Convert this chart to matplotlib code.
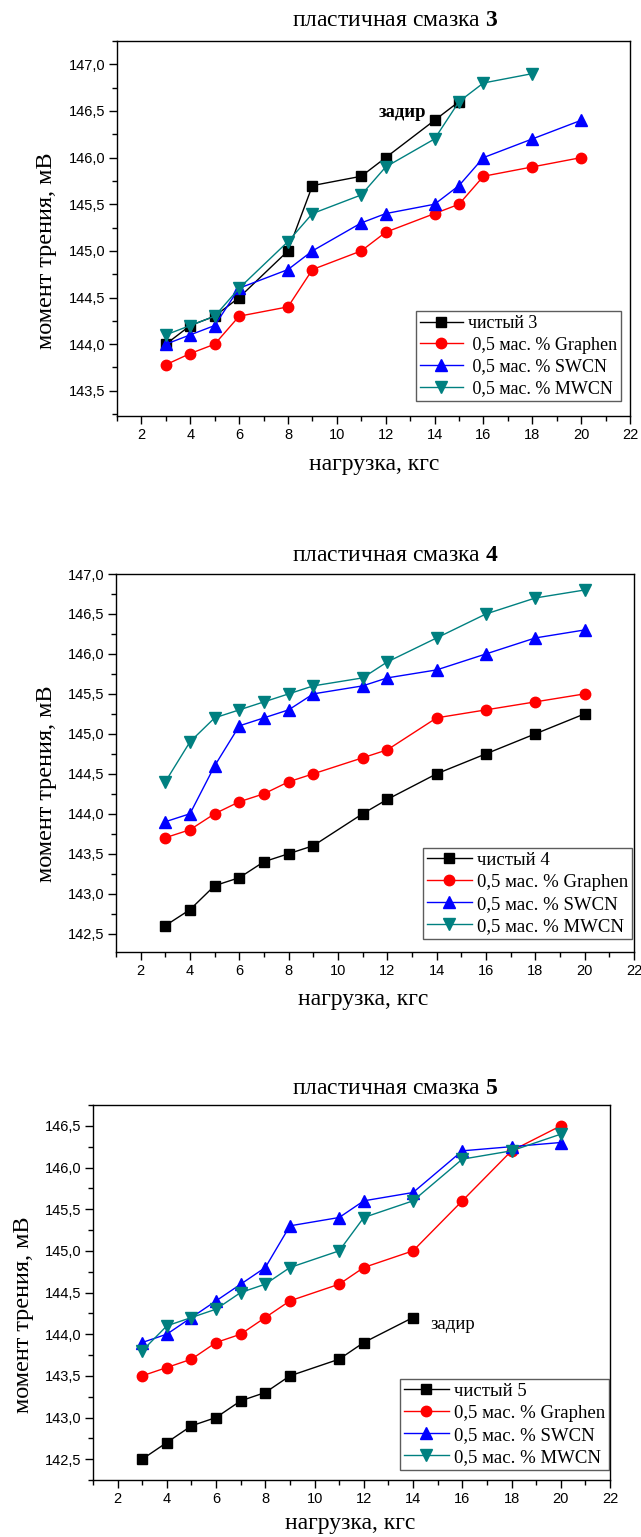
import matplotlib
matplotlib.use("Agg")
import matplotlib.pyplot as plt
from matplotlib.ticker import MultipleLocator, FuncFormatter

plt.rcParams['mathtext.fontset'] = 'custom'
plt.rcParams['mathtext.rm'] = 'Liberation Serif'
plt.rcParams['mathtext.bf'] = 'Liberation Serif:bold'

# ---------------- data ----------------
# panel 1: grease 3
x3_pure = [3, 4, 5, 6, 8, 9, 11, 12, 14, 15]
y3_pure = [144.0, 144.2, 144.3, 144.5, 145.0, 145.7, 145.8, 146.0, 146.4, 146.6]
x3_gr = [3, 4, 5, 6, 8, 9, 11, 12, 14, 15, 16, 18, 20]
y3_gr = [143.78, 143.9, 144.0, 144.3, 144.4, 144.8, 145.0, 145.2, 145.4, 145.5, 145.8, 145.9, 146.0]
x3_sw = [3, 4, 5, 6, 8, 9, 11, 12, 14, 15, 16, 18, 20]
y3_sw = [144.0, 144.1, 144.2, 144.6, 144.8, 145.0, 145.3, 145.4, 145.5, 145.7, 146.0, 146.2, 146.4]
x3_mw = [3, 4, 5, 6, 8, 9, 11, 12, 14, 15, 16, 18]
y3_mw = [144.1, 144.2, 144.3, 144.6, 145.1, 145.4, 145.6, 145.9, 146.2, 146.6, 146.8, 146.9]

# panel 2: grease 4
x4 = [3, 4, 5, 6, 7, 8, 9, 11, 12, 14, 16, 18, 20]
y4_pure = [142.6, 142.8, 143.1, 143.2, 143.4, 143.5, 143.6, 144.0, 144.18, 144.5, 144.75, 145.0, 145.25]
y4_gr = [143.7, 143.8, 144.0, 144.15, 144.25, 144.4, 144.5, 144.7, 144.8, 145.2, 145.3, 145.4, 145.5]
y4_sw = [143.9, 144.0, 144.6, 145.1, 145.2, 145.3, 145.5, 145.6, 145.7, 145.8, 146.0, 146.2, 146.3]
y4_mw = [144.4, 144.9, 145.2, 145.3, 145.4, 145.5, 145.6, 145.7, 145.9, 146.2, 146.5, 146.7, 146.8]

# panel 3: grease 5
x5_pure = [3, 4, 5, 6, 7, 8, 9, 11, 12, 14]
y5_pure = [142.5, 142.7, 142.9, 143.0, 143.2, 143.3, 143.5, 143.7, 143.9, 144.2]
x5 = [3, 4, 5, 6, 7, 8, 9, 11, 12, 14, 16, 18, 20]
y5_gr = [143.5, 143.6, 143.7, 143.9, 144.0, 144.2, 144.4, 144.6, 144.8, 145.0, 145.6, 146.2, 146.5]
y5_sw = [143.9, 144.0, 144.2, 144.4, 144.6, 144.8, 145.3, 145.4, 145.6, 145.7, 146.2, 146.25, 146.3]
y5_mw = [143.8, 144.1, 144.2, 144.3, 144.5, 144.6, 144.8, 145.0, 145.4, 145.6, 146.1, 146.2, 146.4]

titles = ["пластичная смазка $\\mathbf{3}$",
          "пластичная смазка $\\mathbf{4}$",
          "пластичная смазка $\\mathbf{5}$"]
labels = [["чистый 3", " 0,5 мас. % Graphen", " 0,5 мас. % SWCN", " 0,5 мас. % MWCN"],
          ["чистый 4", "0,5 мас. % Graphen", "0,5 мас. % SWCN", "0,5 мас. % MWCN"],
          ["чистый 5", "0,5 мас. % Graphen", "0,5 мас. % SWCN", "0,5 мас. % MWCN"]]
xlabel = "нагрузка, кгс"
ylabel = "момент трения, мВ"

# ---------------- layout ----------------
W, H = 641, 1537
fig = plt.figure(figsize=(W / 100, H / 100), dpi=100)

def ax_at(l, r, t, b):
    return fig.add_axes([l / W, 1 - b / H, (r - l) / W, (b - t) / H])

boxes = [(117, 630, 41, 416), (116, 634, 574, 952), (93, 610, 1105, 1480)]
ylims = [(143.23, 147.25), (142.27, 147.0), (142.25, 146.75)]
leg_anchor = [(0.982, 0.04), (0.996, 0.034), (0.998, 0.027)]
leg_size = [13, 13.5, 13.5]
title_pos = [(395, 21), (395, 555), (395, 1089)]
ylab_pos = [(47, 251), (47, 784), (24, 1315)]
xlab_pos = [(374, 465), (363, 999), (350, 1524)]

series = [
    [(x3_pure, y3_pure), (x3_gr, y3_gr), (x3_sw, y3_sw), (x3_mw, y3_mw)],
    [(x4, y4_pure), (x4, y4_gr), (x4, y4_sw), (x4, y4_mw)],
    [(x5_pure, y5_pure), (x5, y5_gr), (x5, y5_sw), (x5, y5_mw)],
]
styles = [dict(color='black', marker='s', markersize=6.5),
          dict(color='#ff0000', marker='o', markersize=7.5),
          dict(color='#0000ff', marker='^', markersize=8),
          dict(color='#008080', marker='v', markersize=8)]

fmt = FuncFormatter(lambda v, p: f"{v:.1f}".replace('.', ','))
serif = 'Liberation Serif'
sans = 'Liberation Sans'

for i in range(3):
    ax = ax_at(*boxes[i])
    for (xs, ys), st, lab in zip(series[i], styles, labels[i]):
        ax.plot(xs, ys, linewidth=1.0, label=lab, **st)
    ax.set_xlim(1, 22)
    ax.set_ylim(*ylims[i])
    ax.xaxis.set_major_locator(MultipleLocator(2))
    ax.xaxis.set_minor_locator(MultipleLocator(1))
    ax.yaxis.set_major_locator(MultipleLocator(0.5))
    ax.yaxis.set_minor_locator(MultipleLocator(0.25))
    ax.yaxis.set_major_formatter(fmt)
    ax.tick_params(which='major', direction='out', length=6, width=1, labelsize=10.5, pad=2.5)
    ax.tick_params(which='minor', direction='out', length=3.5, width=1)
    for t in ax.get_xticklabels() + ax.get_yticklabels():
        t.set_fontfamily(sans)
    for s in ax.spines.values():
        s.set_linewidth(1.0)
    leg = ax.legend(loc='lower right', bbox_to_anchor=leg_anchor[i], borderaxespad=0,
                    prop={'family': serif, 'size': leg_size[i]}, frameon=True, fancybox=False,
                    edgecolor='#333333', handlelength=2.4, handletextpad=0.25,
                    labelspacing=0.26, borderpad=0.22)
    leg.get_frame().set_linewidth(1.0)
    fig.text(title_pos[i][0] / W, 1 - title_pos[i][1] / H, titles[i], ha='center', va='center',
             family=serif, fontsize=17)
    fig.text(ylab_pos[i][0] / W, 1 - ylab_pos[i][1] / H, ylabel, ha='center', va='center',
             rotation=90, family=serif, fontsize=17.5)
    fig.text(xlab_pos[i][0] / W, 1 - xlab_pos[i][1] / H, xlabel, ha='center', va='center',
             family=serif, fontsize=17)
    if i == 0:
        ax.text(11.7, 146.48, "задир", family=serif, fontsize=13.5, fontweight='bold',
                ha='left', va='center')
    if i == 2:
        ax.text(14.7, 144.12, "задир", family=serif, fontsize=13.5, ha='left', va='center')

fig.savefig("out.png", dpi=100)
